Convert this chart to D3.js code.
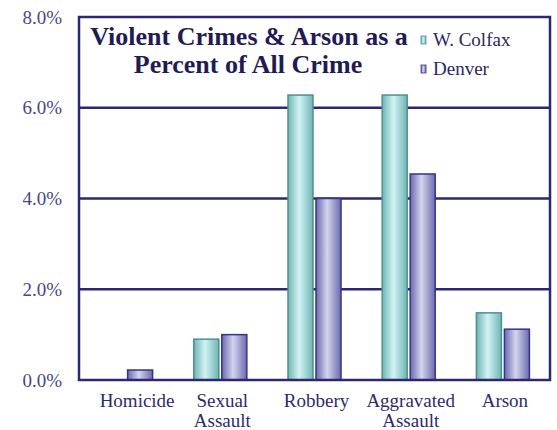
<!DOCTYPE html>
<html><head><meta charset="utf-8">
<script src="https://cdn.jsdelivr.net/npm/d3@7"></script>
<style>
html,body{margin:0;padding:0;background:#fff;}
svg{display:block;}
</style></head>
<body>
<svg id="c" width="557" height="430"></svg>
<script>
const categories = [["Homicide"], ["Sexual","Assault"], ["Robbery"], ["Aggravated","Assault"], ["Arson"]];
const seriesNames = ["W. Colfax", "Denver"];
const colfaxValues = [0.0, 0.90, 6.28, 6.28, 1.48];
const denverValues = [0.22, 1.0, 4.0, 4.54, 1.12];
const tickValues = [0, 2, 4, 6, 8];
const tickLabels = ["0.0%", "2.0%", "4.0%", "6.0%", "8.0%"];
const titleLines = ["Violent Crimes & Arson as a", "Percent of All Crime"];

const FONT = "Liberation Serif";
const svg = d3.select("#c");
const m = {l:79, r:7, t:17, b:50};
const W = 557, H = 430;
const x0 = d3.scaleBand().domain(d3.range(categories.length)).range([m.l, W - m.r]).paddingInner(0).paddingOuter(0);
const x1 = d3.scaleBand().domain(seriesNames).range([0, x0.bandwidth()]).paddingInner(0.107).paddingOuter(0.735);
const y = d3.scaleLinear().domain([0, 8]).range([H - m.b, m.t]);

const defs = svg.append("defs");
function grad(id, edge, mid){
  const g = defs.append("linearGradient").attr("id", id).attr("x1","0").attr("x2","1").attr("y1","0").attr("y2","0");
  g.append("stop").attr("offset","0%").attr("stop-color", edge);
  g.append("stop").attr("offset","45%").attr("stop-color", mid);
  g.append("stop").attr("offset","100%").attr("stop-color", edge);
}
grad("gT", "#6fb5b5", "#d2f2f4");
grad("gP", "#6a6aae", "#d4d4ee");
const fills = {"W. Colfax":"url(#gT)", "Denver":"url(#gP)"};
const strokes = {"W. Colfax":"#4f8f92", "Denver":"#34348a"};
const navy = "#2c2770";

// gridlines
svg.append("g").selectAll("line").data(tickValues.filter(v => v > 0 && v < 8)).join("line")
  .attr("x1", m.l).attr("x2", W - m.r).attr("y1", d => y(d)).attr("y2", d => y(d))
  .attr("stroke", navy).attr("stroke-width", 2.5);

// title / legend backgrounds
svg.append("rect").attr("x", 84).attr("y", 21).attr("width", 332).attr("height", 60).attr("fill", "#fff");
svg.append("rect").attr("x", 418).attr("y", 24).attr("width", 108).attr("height", 60).attr("fill", "#fff");

// bars
const data = categories.map((c, i) => ({i, vals: [
  {s: seriesNames[0], v: colfaxValues[i]}, {s: seriesNames[1], v: denverValues[i]}]}));
const grp = svg.append("g").selectAll("g").data(data).join("g")
  .attr("transform", d => `translate(${x0(d.i)},0)`);
grp.selectAll("rect").data(d => d.vals.filter(e => e.v > 0)).join("rect")
  .attr("x", d => x1(d.s)).attr("width", x1.bandwidth())
  .attr("y", d => y(d.v)).attr("height", d => y(0) - y(d.v))
  .attr("fill", d => fills[d.s]).attr("stroke", d => strokes[d.s]).attr("stroke-width", 1.5);

// plot border
svg.append("rect").attr("x", m.l).attr("y", m.t).attr("width", W - m.r - m.l).attr("height", H - m.b - m.t)
  .attr("fill", "none").attr("stroke", navy).attr("stroke-width", 2.5);

// y axis
const yAxis = d3.axisLeft(y).tickValues(tickValues).tickFormat((d, i) => tickLabels[i]).tickSize(0).tickPadding(17);
const ya = svg.append("g").attr("transform", `translate(${m.l},0)`).call(yAxis);
ya.attr("font-family", FONT);
ya.select(".domain").remove();
ya.selectAll("text").attr("font-family", FONT).attr("font-size", 19).attr("fill", "#4a4782");

// x labels
const xl = svg.append("g");
data.forEach(d => {
  const cx = x0(d.i) + x0.bandwidth()/2 + (d.i === 0 ? 11 : 2);
  const t = xl.append("text").attr("text-anchor", "middle").attr("font-family", FONT).attr("font-size", 19).attr("fill", "#2f2b6a").attr("y", 407);
  categories[d.i].forEach((ln, k) => t.append("tspan").attr("x", cx).attr("dy", k ? 20 : 0).text(ln));
});

// title
const tt = svg.append("text").attr("font-family", FONT).attr("font-weight", "bold").attr("font-size", 26).attr("fill", "#1f1c55").attr("text-anchor", "middle");
tt.append("tspan").attr("x", 249).attr("y", 45).text(titleLines[0]);
tt.append("tspan").attr("x", 248).attr("y", 73).text(titleLines[1]);

// legend
const lg = svg.append("g").attr("transform", "translate(421,40)");
seriesNames.forEach((s, i) => {
  lg.append("rect").attr("x", 0).attr("y", i*29 - 4).attr("width", 5).attr("height", 8).attr("fill", fills[s]).attr("stroke", strokes[s]).attr("stroke-width", 0.8);
  lg.append("text").attr("x", 12).attr("y", i*29 + 6).attr("font-family", FONT).attr("font-size", 19).attr("fill", "#2a2760").text(s);
});
</script>
</body></html>
